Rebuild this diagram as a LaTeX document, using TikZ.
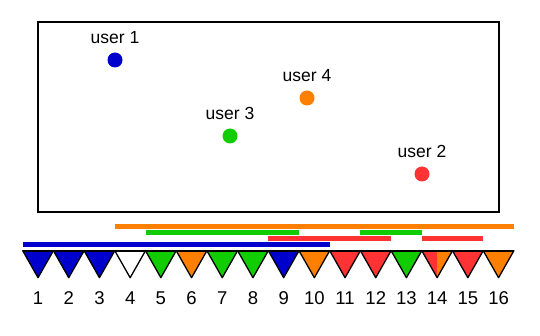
\documentclass[tikz,border=0pt]{standalone}
\usepackage{fontspec}
\setmainfont{Liberation Sans}
\definecolor{UserBlue}{RGB}{0,0,204}
\definecolor{UserGreen}{RGB}{17,204,0}
\definecolor{UserOrange}{RGB}{255,128,0}
\definecolor{UserRed}{RGB}{255,51,51}
\usetikzlibrary{positioning, calc}

\tikzset{
  userdot/.style={circle, inner sep=0pt, minimum size=15pt},
  userlabel/.style={font=\fontsize{17.5}{19}\selectfont, inner sep=0pt},
  slotnum/.style={font=\fontsize{18.5}{20}\selectfont, inner sep=0pt},
  slot/.style={draw=black, line width=1.3pt, line join=round},
  usebar/.style={line width=4.5pt}
}

\begin{document}
\begin{tikzpicture}[x=1pt, y=-1pt]
  \useasboundingbox (0,0) rectangle (540,336);
  % coverage area
  \draw[line width=1.2pt] (38,22) rectangle (499,212);
  \node[userdot, fill=UserBlue] (user1) at (115,60) {};
  \node[userdot, fill=UserRed] (user2) at (422,174) {};
  \node[userdot, fill=UserGreen] (user3) at (230,136) {};
  \node[userdot, fill=UserOrange] (user4) at (307,98) {};
  \foreach \u/\t in {user1/user 1, user2/user 2, user3/user 3, user4/user 4}
    \node[userlabel, above=8pt of \u] (\u lbl) {\t};

  % channel slots
  \foreach \i/\c in {1/UserBlue, 2/UserBlue, 3/UserBlue, 4/white, 5/UserGreen,
                     6/UserOrange, 7/UserGreen, 8/UserGreen, 9/UserBlue,
                     10/UserOrange, 11/UserRed, 12/UserRed, 13/UserGreen,
                     14/UserRed, 15/UserRed, 16/UserOrange} {
    \coordinate (s\i) at ({22.7+(\i-1)*30.7},250.7);
    \coordinate (e\i) at ({22.7+\i*30.7},250.7);
    \coordinate (t\i) at ({22.7+(\i-0.5)*30.7},277.7);
    \fill[\c] (s\i) -- (e\i) -- (t\i) -- cycle;
    \node[slotnum] (n\i) at ({22.7+(\i-0.5)*30.7},298.5) {\i};
  }
  % slot 14 shared
  \fill[UserOrange] ($(s14)!0.5!(e14)$) -- (e14) -- (t14) -- cycle;
  \foreach \i in {1,...,16}
    \draw[slot] (s\i) -- (e\i) -- (t\i) -- cycle;
  \draw[line width=1.8pt] (s1) -- (e16);

  % allocations
  \draw[usebar, UserOrange] ([yshift=24pt]s4) -- ([yshift=24pt]e16);
  \draw[usebar, UserGreen] ([yshift=18pt]s5) -- ([yshift=18pt]e9);
  \draw[usebar, UserGreen] ([yshift=18pt]s12) -- ([yshift=18pt]e13);
  \draw[usebar, UserRed] ([yshift=12pt]s9) -- ([yshift=12pt]e12);
  \draw[usebar, UserRed] ([yshift=12pt]s14) -- ([yshift=12pt]e15);
  \draw[usebar, UserBlue] ([yshift=6pt]s1) -- ([yshift=6pt]e10);
\end{tikzpicture}
\end{document}
